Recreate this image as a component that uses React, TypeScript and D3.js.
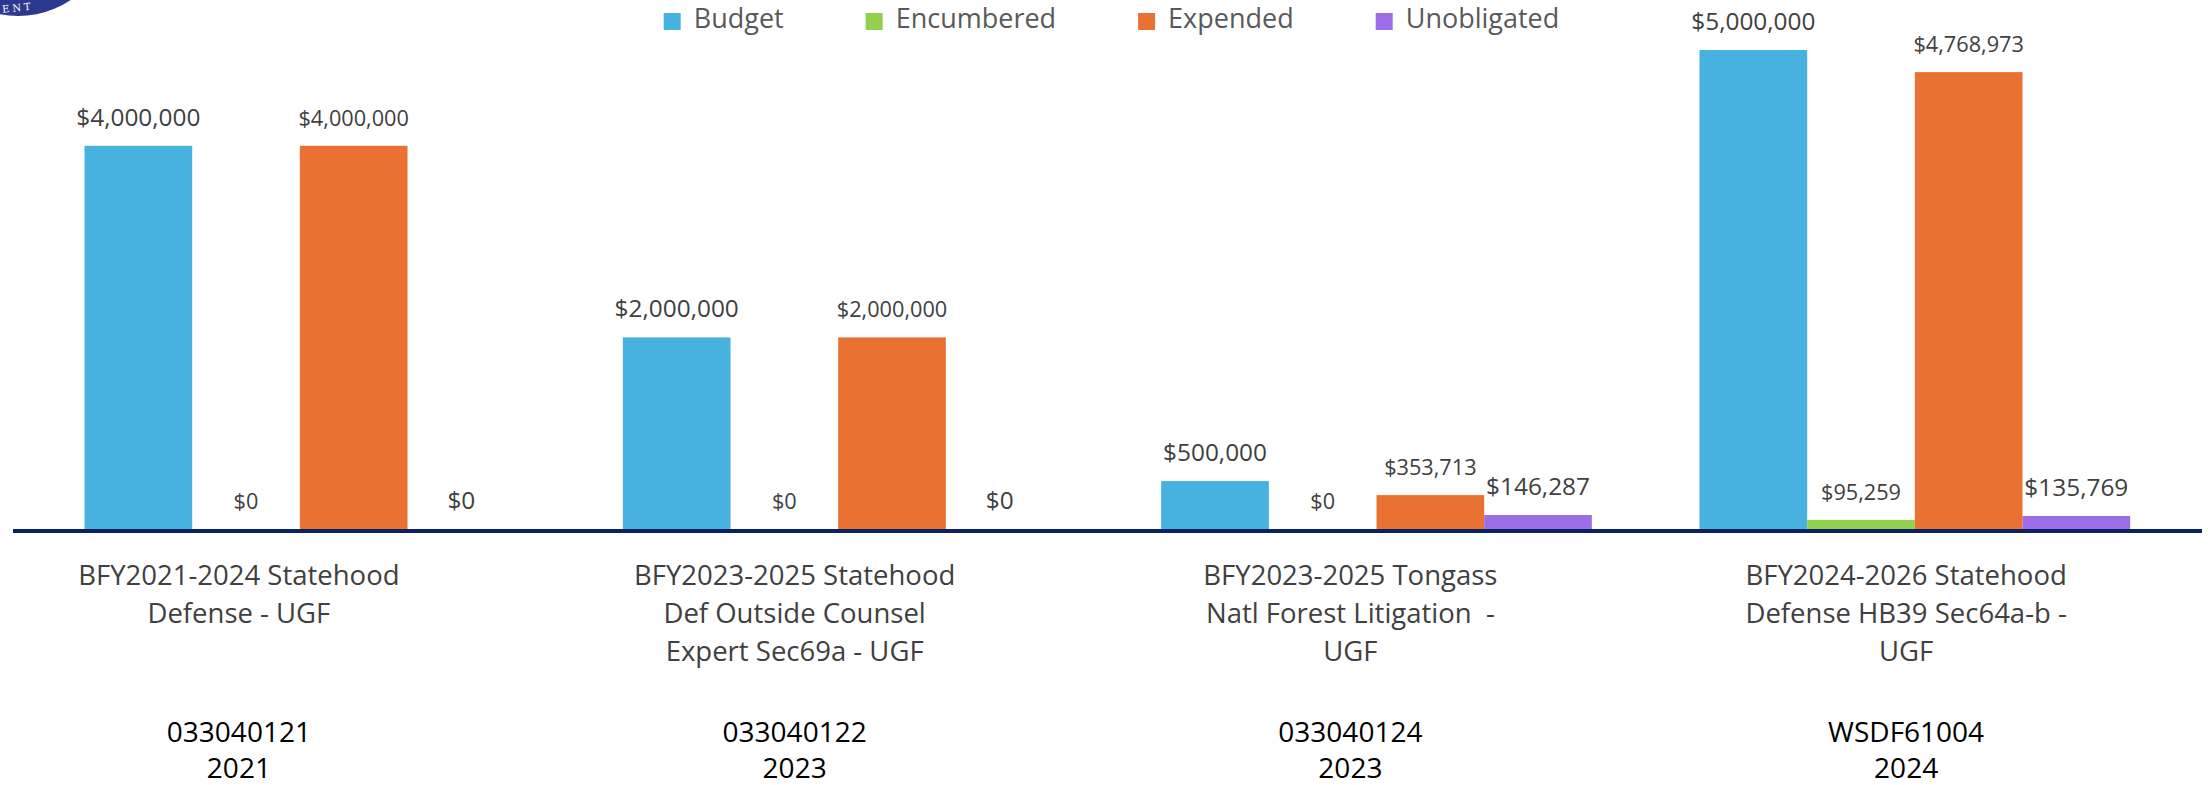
import React, { useEffect, useRef } from "react"
import * as d3 from "d3"

const W = 2208
const H = 785

// data
const NAME_LINES: string[][] = [
  ["BFY2021-2024 Statehood", "Defense - UGF"],
  ["BFY2023-2025 Statehood", "Def Outside Counsel", "Expert Sec69a - UGF"],
  ["BFY2023-2025 Tongass", "Natl Forest Litigation  -", "UGF"],
  ["BFY2024-2026 Statehood", "Defense HB39 Sec64a-b -", "UGF"],
]
const CODES = ["033040121", "033040122", "033040124", "WSDF61004"]
const YEARS = ["2021", "2023", "2023", "2024"]
const SERIES = ["Budget", "Encumbered", "Expended", "Unobligated"]
const BUDGET = [4000000, 2000000, 500000, 5000000]
const ENCUMBERED = [0, 0, 0, 95259]
const EXPENDED = [4000000, 2000000, 353713, 4768973]
const UNOBLIGATED = [0, 0, 146287, 135769]

const COLORS: Record<string, string> = {
  Budget: "#47B1E0",
  Encumbered: "#92D050",
  Expended: "#E97132",
  Unobligated: "#9D6DE6",
}
// data label font size per series (smaller for Encumbered/Expended)
const LABEL_SIZE: Record<string, number> = {
  Budget: 24.4,
  Encumbered: 21.7,
  Expended: 21.7,
  Unobligated: 24.4,
}

const FONT = "'Segoe UI', 'Open Sans', sans-serif"

export default function App() {
  const ref = useRef<SVGSVGElement>(null)

  useEffect(() => {
    const svg = d3.select(ref.current)
    svg.selectAll("*").remove()

    const keys = CODES
    const values: Record<string, number[]> = {
      Budget: BUDGET,
      Encumbered: ENCUMBERED,
      Expended: EXPENDED,
      Unobligated: UNOBLIGATED,
    }
    const rows = keys.map((k, i) => ({
      key: k,
      bars: SERIES.map((s) => ({ series: s, value: values[s][i] })),
    }))

    const x0 = d3.scaleBand().domain(keys).range([30.7, 2184])
    const x1 = d3
      .scaleBand()
      .domain(SERIES)
      .range([0, x0.bandwidth()])
      .paddingInner(0)
      .paddingOuter(0.5)
    const xl = d3.scaleBand().domain(keys).range([-39, 2184])
    const y = d3.scaleLinear().domain([0, 5000000]).range([529, 50])
    const fmt = d3.format("$,.0f")

    // logo fragment (top-left seal)
    svg.append("circle").attr("cx", 18).attr("cy", -79).attr("r", 95).attr("fill", "#2B3990")
    svg
      .append("text")
      .attr("x", 2)
      .attr("y", 11)
      .attr("transform", "rotate(-6 20 8)")
      .attr("fill", "#fff")
      .attr("font-family", "'DejaVu Serif', serif")
      .attr("font-size", 10)
      .attr("letter-spacing", 3)
      .text("ENT")

    // bars
    const g = svg
      .selectAll("g.group")
      .data(rows)
      .join("g")
      .attr("class", "group")
      .attr("transform", (d) => `translate(${x0(d.key)},0)`)

    g.selectAll("rect")
      .data((d) => d.bars)
      .join("rect")
      .attr("x", (d) => x1(d.series) as number)
      .attr("width", x1.bandwidth())
      .attr("y", (d) => y(d.value))
      .attr("height", (d) => y(0) - y(d.value))
      .attr("fill", (d) => COLORS[d.series])

    g.selectAll("text.val")
      .data((d) => d.bars)
      .join("text")
      .attr("class", "val")
      .attr("x", (d) => (x1(d.series) as number) + x1.bandwidth() / 2)
      .attr("y", (d) => y(d.value) - 20)
      .attr("text-anchor", "middle")
      .attr("font-family", FONT)
      .attr("font-size", (d) => LABEL_SIZE[d.series])
      .attr("fill", "#404040")
      .text((d) => fmt(d.value))

    // axis line
    svg
      .append("line")
      .attr("x1", 13)
      .attr("x2", 2202)
      .attr("y1", 531)
      .attr("y2", 531)
      .attr("stroke", "#0B2262")
      .attr("stroke-width", 4)

    // category labels
    const cat = svg
      .selectAll("g.cat")
      .data(keys)
      .join("g")
      .attr("class", "cat")
      .attr("transform", (d) => `translate(${(xl(d) as number) + xl.bandwidth() / 2},0)`)

    cat.each(function (d, i) {
      const c = d3.select(this)
      NAME_LINES[i].forEach((line, j) => {
        c.append("text")
          .attr("x", 0)
          .attr("y", 585 + j * 38)
          .attr("text-anchor", "middle")
          .attr("xml:space", "preserve")
          .attr("font-family", FONT)
          .attr("font-size", 27.5)
          .attr("fill", "#404040")
          .text(line)
      })
      c.append("text")
        .attr("y", 742)
        .attr("text-anchor", "middle")
        .attr("font-family", FONT)
        .attr("font-size", 28)
        .attr("fill", "#000")
        .text(CODES[i])
      c.append("text")
        .attr("y", 778)
        .attr("text-anchor", "middle")
        .attr("font-family", FONT)
        .attr("font-size", 28)
        .attr("fill", "#000")
        .text(YEARS[i])
    })

    // legend
    const legend = svg.append("g")
    let lx = 0
    SERIES.forEach((s, i) => {
      const item = legend.append("g").attr("transform", `translate(${lx},0)`)
      item.append("rect").attr("x", 0).attr("y", 13).attr("width", 17).attr("height", 17).attr("fill", COLORS[s])
      const t = item
        .append("text")
        .attr("x", 30)
        .attr("y", 27.5)
        .attr("font-family", FONT)
        .attr("font-size", 27)
        .attr("fill", "#595959")
        .text(s)
      const tw = (t.node() as SVGTextElement).getComputedTextLength()
      lx += 30 + tw + (i < SERIES.length - 1 ? 82 : 0)
    })
    legend.attr("transform", `translate(${1111.5 - lx / 2},0)`)
  }, [])

  return (
    <svg
      ref={ref}
      width={W}
      height={H}
      style={{ position: "absolute", left: 0, top: 0, display: "block", background: "#fff" }}
    />
  )
}
